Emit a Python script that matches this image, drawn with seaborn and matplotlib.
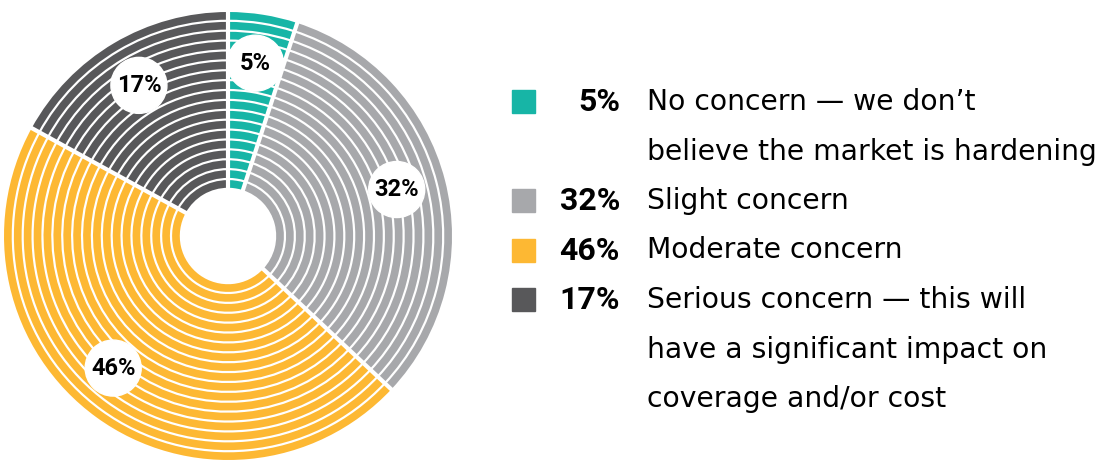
import numpy as np
import matplotlib
matplotlib.use("Agg")
import matplotlib.pyplot as plt
import seaborn as sns
from matplotlib.patches import Rectangle, Circle

sns.set_style("white")
plt.rcParams['font.family'] = ['Roboto', 'DejaVu Sans']
plt.rcParams['text.color'] = 'black'

# data
shares = [5, 32, 46, 17]
pct_labels = ["5%", "32%", "46%", "17%"]
legend_lines = [
    ["No concern \u2014 we don\u2019t", "believe the market is hardening"],
    ["Slight concern"],
    ["Moderate concern"],
    ["Serious concern \u2014 this will", "have a significant impact on", "coverage and/or cost"],
]
colors = ["#17B5A6", "#A7A8AB", "#FDB833", "#58585A"]

W, H = 1104, 476
fig = plt.figure(figsize=(W / 100, H / 100), dpi=100)
ax = fig.add_axes([0, 0, 1, 1])

cx, cy = 228, H - 236
r_out, r_in = 224, 46
n_rings = 18
pitch = (r_out - r_in) / n_rings
gap = 2.2

# concentric rings
for i in range(n_rings):
    r = r_out - i * pitch
    ax.pie(shares, radius=r, center=(cx, cy), colors=colors, startangle=90,
           counterclock=False, frame=True,
           wedgeprops=dict(width=pitch - gap, linewidth=0))

ax.set_xlim(0, W)
ax.set_ylim(0, H)
ax.set_aspect("equal")
ax.axis("off")

# radial white separators
cum = np.cumsum([0] + shares) / sum(shares)
for c in cum[:-1]:
    a = np.deg2rad(90 - c * 360)
    ax.plot([cx + (r_in - 2) * np.cos(a), cx + (r_out + 2) * np.cos(a)],
            [cy + (r_in - 2) * np.sin(a), cy + (r_out + 2) * np.sin(a)],
            color="white", lw=3.0, solid_capstyle="butt", zorder=5)

# value labels in white circles
mids = (cum[:-1] + cum[1:]) / 2
nudge = [0, 1, -5, 0]  # degrees, small placement tweaks
for m, lab, nd in zip(mids, pct_labels, nudge):
    a = np.deg2rad(90 - m * 360 + nd)
    x, y = cx + 175 * np.cos(a), cy + 175 * np.sin(a)
    ax.add_patch(Circle((x, y), 28, color="white", zorder=6))
    ax.text(x, y, lab, ha="center", va="center", fontsize=17, fontweight="bold",
            color="black", zorder=7)

# legend
line_h = 49.5
row = 0
y0 = H - 102
for col, pct, lines in zip(colors, pct_labels, legend_lines):
    y = y0 - row * line_h
    ax.add_patch(Rectangle((512, y - 11), 23, 23, color=col, zorder=3))
    ax.text(620, y, pct, ha="right", va="center", fontsize=23, fontweight="bold",
            color="black")
    for j, t in enumerate(lines):
        ax.text(647, y - j * line_h, t, ha="left", va="center", fontsize=20.3,
                family="DejaVu Sans", color="black")
    row += len(lines)

fig.savefig("out.png", dpi=100)
